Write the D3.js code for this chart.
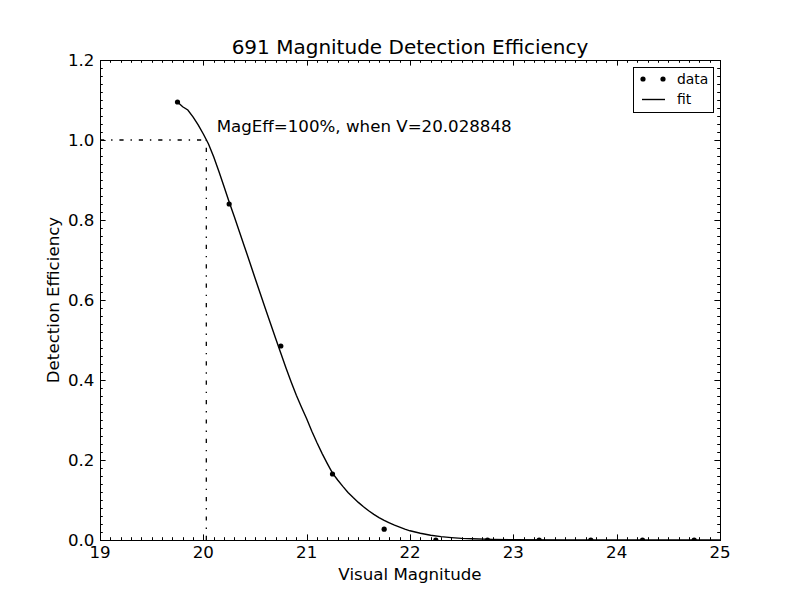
<!DOCTYPE html>
<html>
<head>
<meta charset="utf-8">
<script src="https://cdn.jsdelivr.net/npm/d3@7"></script>
<style>
  body { margin: 0; background: #fff; }
  text { font-family: "DejaVu Sans", sans-serif; fill: #000; }
</style>
</head>
<body>
<div id="chart"></div>
<script>
// measured data
const magX = [19.75, 20.25, 20.75, 21.25, 21.75, 22.25, 22.75, 23.25, 23.75, 24.25, 24.75];
const effY = [1.095, 0.84, 0.485, 0.165, 0.027, 0.0, 0.0, 0.0, 0.0, 0.0, 0.0];

// fitted curve
const fitX = [19.75, 19.80, 19.85, 19.90, 19.95, 20.00, 20.05, 20.10, 20.15, 20.20, 20.25, 20.30, 20.35, 20.40, 20.45, 20.50, 20.55, 20.60, 20.65, 20.70, 20.75, 20.80, 20.85, 20.90, 20.95, 21.00, 21.05, 21.10, 21.15, 21.20, 21.25, 21.30, 21.35, 21.40, 21.45, 21.50, 21.55, 21.60, 21.65, 21.70, 21.75, 21.80, 21.85, 21.90, 21.95, 22.00, 22.10, 22.20, 22.30, 22.40, 22.50, 22.60, 22.80, 23.00, 23.50, 24.00, 24.50, 25.00];
const fitY = [1.095, 1.083, 1.075, 1.058, 1.038, 1.015, 0.990, 0.958, 0.922, 0.884, 0.845, 0.808, 0.770, 0.732, 0.694, 0.655, 0.617, 0.579, 0.541, 0.504, 0.467, 0.430, 0.395, 0.362, 0.332, 0.303, 0.272, 0.243, 0.216, 0.191, 0.167, 0.150, 0.134, 0.119, 0.106, 0.094, 0.083, 0.073, 0.064, 0.056, 0.049, 0.043, 0.037, 0.032, 0.027, 0.023, 0.017, 0.012, 0.0085, 0.006, 0.004, 0.003, 0.0015, 0.0008, 0.0, 0.0, 0.0, 0.0];

const magFull = 20.028848;
const titleText = '691 Magnitude Detection Efficiency';
const xTicks = [19, 20, 21, 22, 23, 24, 25];
const yTicks = [0.0, 0.2, 0.4, 0.6, 0.8, 1.0, 1.2];

const width = 800, height = 600;
const margin = {top: 60, right: 80, bottom: 60, left: 100};
const iw = width - margin.left - margin.right;
const ih = height - margin.top - margin.bottom;

const svg = d3.select('#chart')
.append('svg')
.attr('width', width)
.attr('height', height);

const x = d3.scaleLinear().domain([19, 25]).range([0, iw]);
const y = d3.scaleLinear().domain([0, 1.2]).range([ih, 0]);

const g = svg.append('g')
.attr('transform', `translate(${margin.left},${margin.top})`);

svg.append('defs').append('clipPath')
.attr('id', 'clip')
.append('rect')
.attr('width', iw)
.attr('height', ih);

const plot = g.append('g').attr('clip-path', 'url(#clip)');

// dash-dot guide lines
const dashDot = '4.2,6.9,1.4,6.9';
plot.append('line')
.attr('x1', x(19)).attr('x2', x(magFull))
.attr('y1', y(1.0)).attr('y2', y(1.0))
.attr('stroke', '#000').attr('stroke-width', 1.3)
.attr('stroke-dasharray', dashDot);

plot.append('line')
.attr('x1', x(magFull)).attr('x2', x(magFull))
.attr('y1', y(0)).attr('y2', y(1.0))
.attr('stroke', '#000').attr('stroke-width', 1.3)
.attr('stroke-dasharray', dashDot);

// fit line
const line = d3.line()
.x((d, i) => x(fitX[i]))
.y((d, i) => y(fitY[i]));

plot.append('path')
.datum(fitX)
.attr('d', line)
.attr('fill', 'none')
.attr('stroke', '#000')
.attr('stroke-width', 1.4);

// data points
plot.selectAll('circle.pt')
.data(magX)
.enter()
.append('circle')
.attr('class', 'pt')
.attr('cx', d => x(d))
.attr('cy', (d, i) => y(effY[i]))
.attr('r', 2.6)
.attr('fill', '#000');

// annotation
g.append('text')
.attr('x', x(magFull + 0.1))
.attr('y', y(1.02))
.style('font-size', '16.67px')
.text('MagEff=100%, when V=' + magFull.toFixed(6));

// ticks (inward, all four sides)
const xMinor = d3.range(190, 251).map(d => d / 10);
const yMinor = d3.range(0, 61).map(d => d / 50);

const tickG = g.append('g').attr('stroke', '#000').attr('stroke-width', 1);
function ticks(vals, len, scale, horiz) {
  vals.forEach(v => {
    const p = Math.round(scale(v)) + 0.5;
    if (horiz) {
      tickG.append('line').attr('x1', p).attr('x2', p).attr('y1', ih).attr('y2', ih - len);
      tickG.append('line').attr('x1', p).attr('x2', p).attr('y1', 0).attr('y2', len);
    } else {
      tickG.append('line').attr('y1', p).attr('y2', p).attr('x1', 0).attr('x2', len);
      tickG.append('line').attr('y1', p).attr('y2', p).attr('x1', iw).attr('x2', iw - len);
    }
  });
}
ticks(xMinor, 2.8, x, true);
ticks(yMinor, 2.8, y, false);
ticks(xTicks, 5.6, x, true);
ticks(yTicks, 5.6, y, false);

// frame
g.append('rect')
.attr('x', 0.5).attr('y', 0.5)
.attr('width', iw).attr('height', ih)
.attr('fill', 'none')
.attr('stroke', '#000')
.attr('stroke-width', 1);

// tick labels
g.selectAll('text.xt')
.data(xTicks)
.enter()
.append('text')
.attr('class', 'xt')
.attr('x', d => x(d))
.attr('y', ih + 18)
.attr('text-anchor', 'middle')
.style('font-size', '16.67px')
.text(d => d);

g.selectAll('text.yt')
.data(yTicks)
.enter()
.append('text')
.attr('class', 'yt')
.attr('x', -5.6)
.attr('y', d => y(d) + 6)
.attr('text-anchor', 'end')
.style('font-size', '16.67px')
.text(d => d.toFixed(1));

// axis labels and title
svg.append('text')
.attr('x', margin.left + iw / 2)
.attr('y', 580)
.attr('text-anchor', 'middle')
.style('font-size', '16.67px')
.text('Visual Magnitude');

svg.append('text')
.attr('transform', `translate(59,${margin.top + ih / 2}) rotate(-90)`)
.attr('text-anchor', 'middle')
.style('font-size', '16.67px')
.text('Detection Efficiency');

svg.append('text')
.attr('x', margin.left + iw / 2)
.attr('y', 53.5)
.attr('text-anchor', 'middle')
.style('font-size', '20px')
.text(titleText);

// legend
const leg = svg.append('g').attr('transform', 'translate(633,67)');
leg.append('rect')
.attr('x', 0.5).attr('y', 0.5)
.attr('width', 80).attr('height', 45)
.attr('fill', '#fff')
.attr('stroke', '#000');
[10, 30].forEach(dx => {
  leg.append('circle').attr('cx', dx).attr('cy', 12).attr('r', 2.6).attr('fill', '#000');
});
leg.append('line')
.attr('x1', 9).attr('x2', 32)
.attr('y1', 32.5).attr('y2', 32.5)
.attr('stroke', '#000').attr('stroke-width', 1.4);
leg.append('text').attr('x', 44).attr('y', 17).style('font-size', '13.9px').text('data');
leg.append('text').attr('x', 44).attr('y', 37).style('font-size', '13.9px').text('fit');
</script>
</body>
</html>
